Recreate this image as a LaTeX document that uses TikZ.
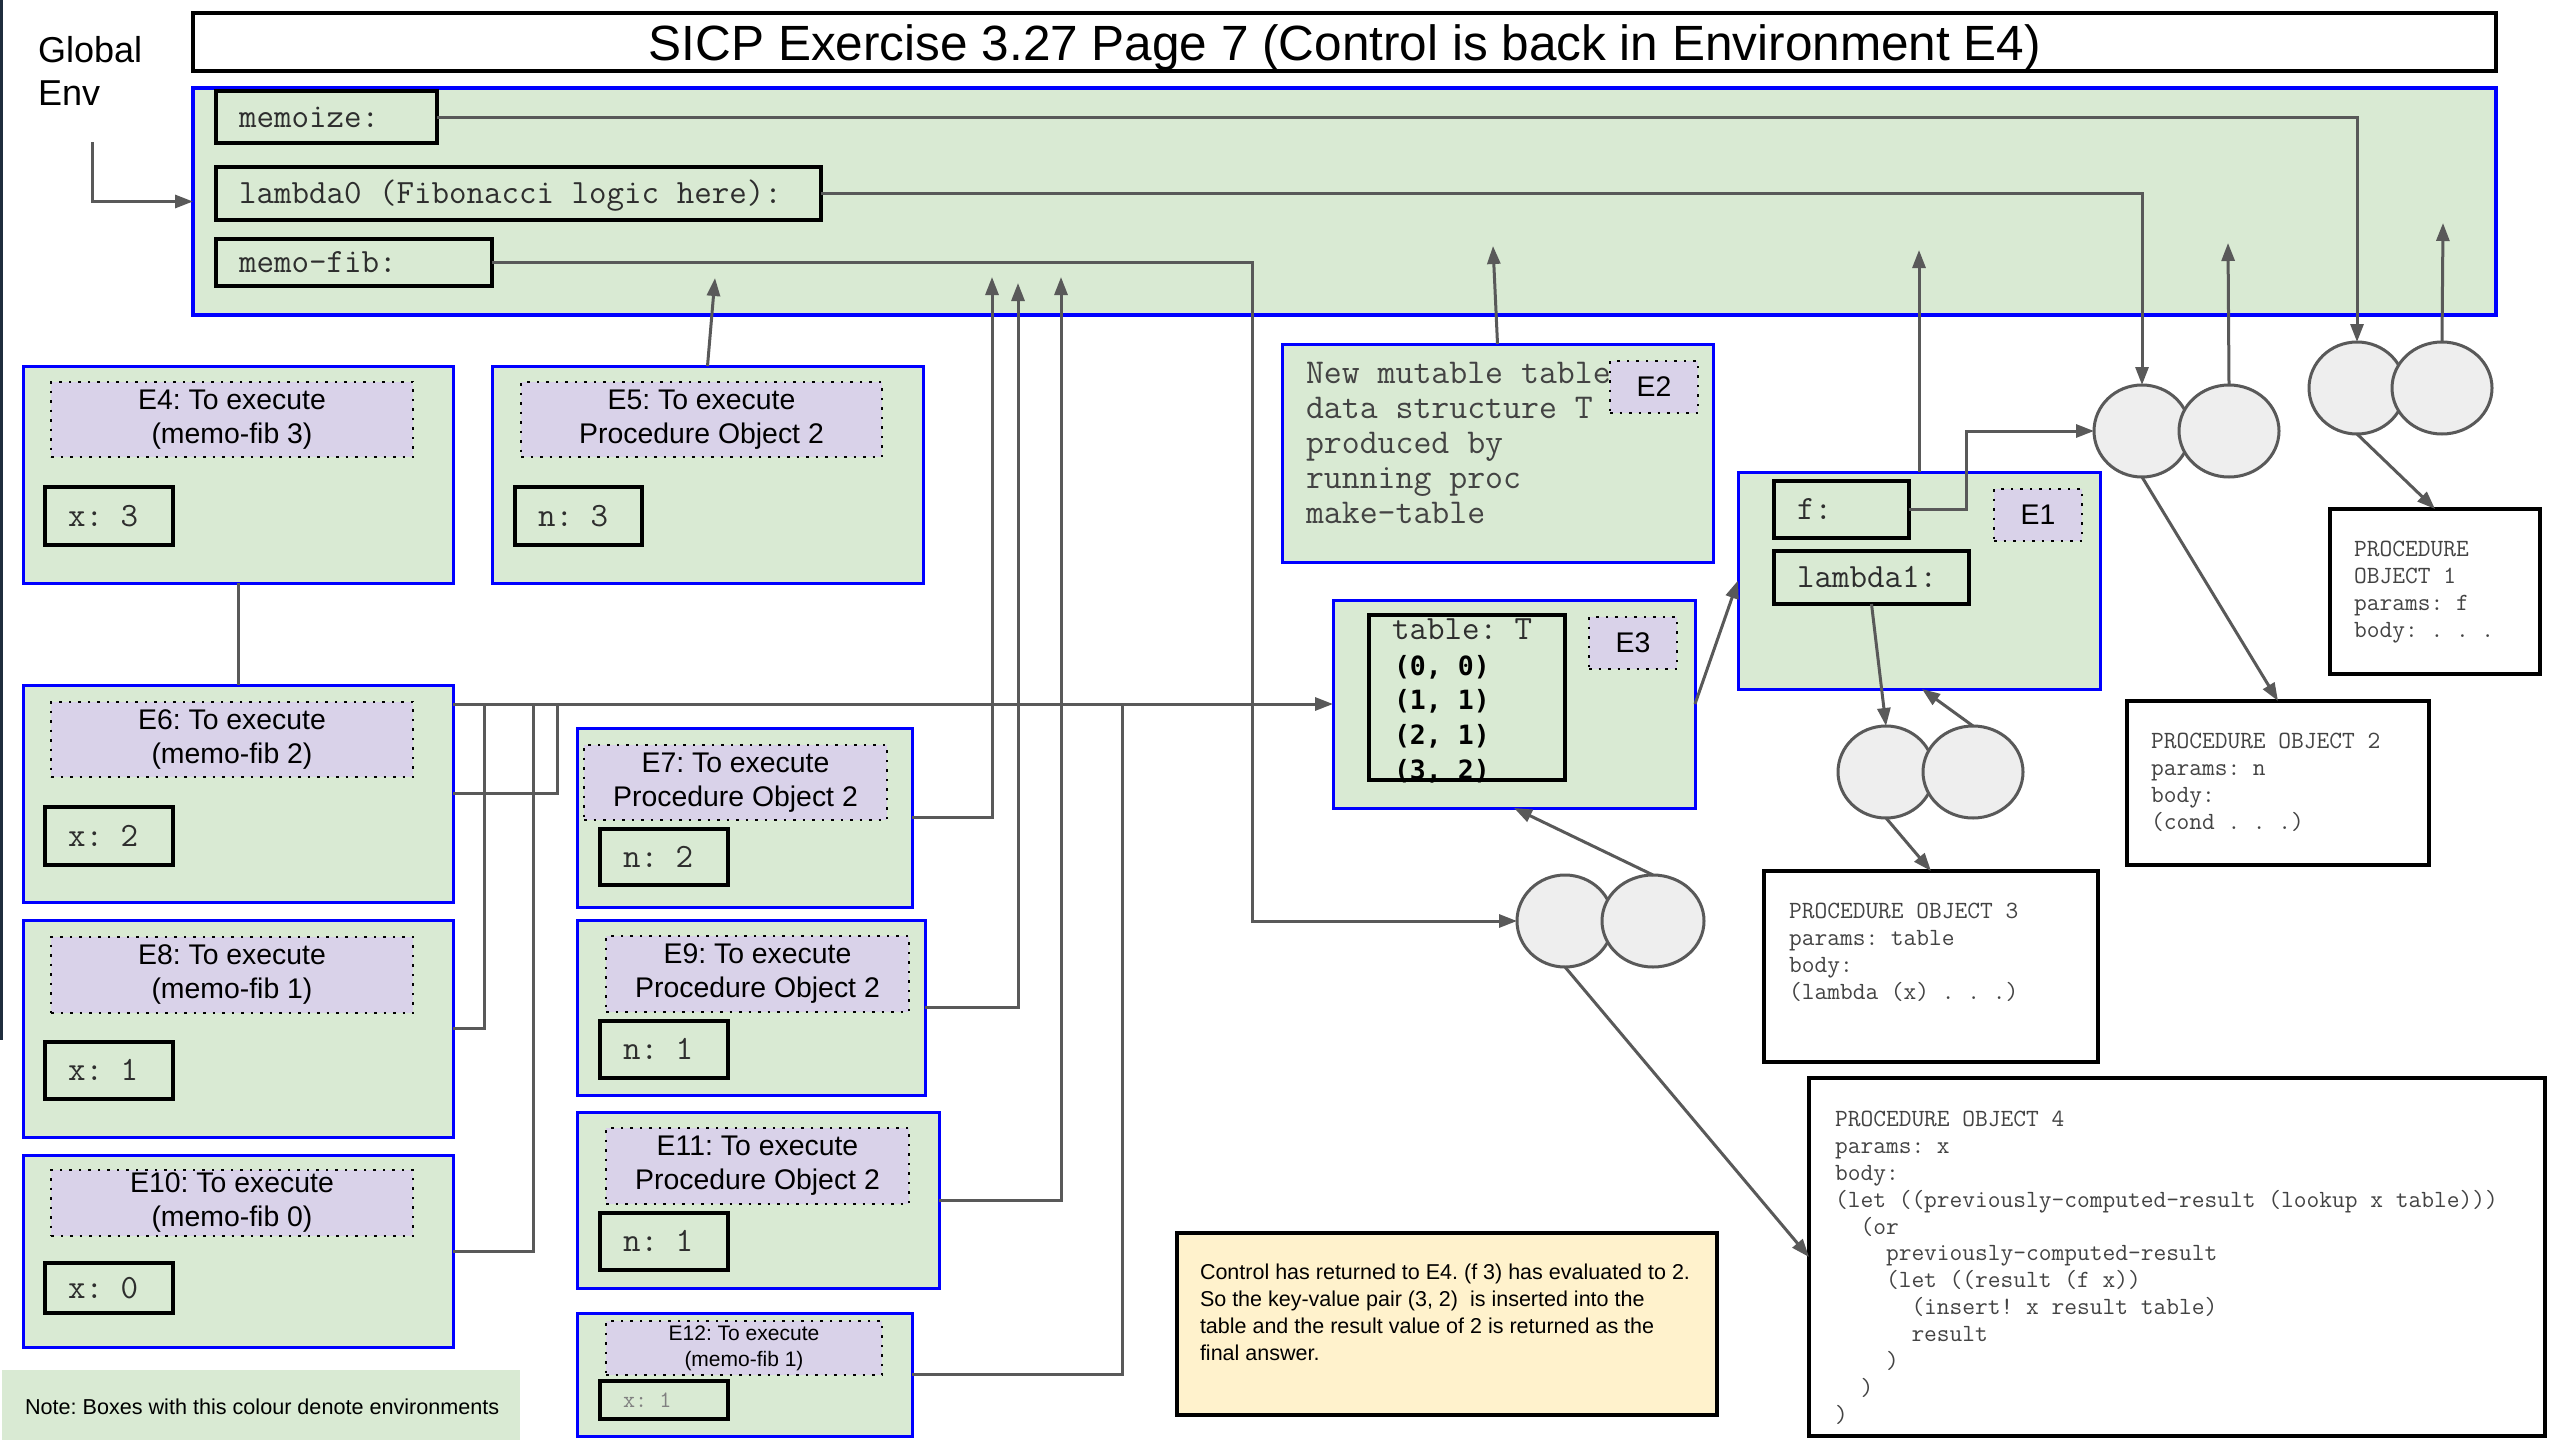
\documentclass[tikz,border=0pt]{standalone}
\usepackage{fontspec}
\setmainfont{Liberation Sans}
\newfontfamily\pairfont{DejaVu Sans Mono}
\usetikzlibrary{shapes.geometric,arrows.meta}
\definecolor{envgreen}{HTML}{D9EAD3}
\definecolor{lblpurple}{HTML}{D9D2E9}
\definecolor{envblue}{HTML}{0000FF}
\definecolor{cellgray}{HTML}{EEEEEE}
\definecolor{linegray}{HTML}{595959}
\definecolor{notey}{HTML}{FFF2CC}
\definecolor{monogray}{HTML}{2E2E2E}
\definecolor{pogray}{HTML}{434343}
\definecolor{edgecol}{HTML}{1F2D3D}
\tikzset{
  every node/.style={inner sep=0pt, outer sep=0pt},
  env/.style={draw=envblue, line width=3pt, fill=envgreen},
  gframe/.style={draw=envblue, line width=4pt, fill=envgreen},
  titlebox/.style={draw=black, line width=3.5pt, fill=white},
  lbl/.style={draw=black, line width=2.5pt, dash pattern=on 2.5pt off 7pt, fill=lblpurple, align=center, font=\fontsize{28.4}{34}\selectfont},
  lblsmall/.style={lbl, font=\fontsize{21}{26}\selectfont},
  varbox/.style={draw=black, line width=3.2pt, fill=envgreen},
  vartext/.style={font=\ttfamily\fontsize{34}{36}\selectfont, text=monogray, anchor=base west},
  e2text/.style={font=\ttfamily\fontsize{34.8}{35}\selectfont, text=pogray, align=left, anchor=north west},
  pairtext/.style={font=\pairfont\bfseries\fontsize{26.5}{34.8}\selectfont, text=black, align=left, anchor=north west},
  pobox/.style={draw=black, line width=3.2pt, fill=white},
  potext/.style={font=\ttfamily\fontsize{24.75}{26.9}\selectfont, text=pogray, align=left, anchor=north west},
  notebox/.style={draw=black, line width=3.2pt, fill=notey},
  cell/.style={ellipse, draw=linegray, line width=3pt, fill=cellgray},
  conn/.style={draw=linegray, line width=3pt},
  arr/.style={conn, -{Triangle[length=18pt,width=13pt]}},
}
\newcommand\bxr[7][]{\node[#1, anchor=north west, minimum width={(#5-#3)*1pt}, minimum height={(#6-#4)*1pt}] (#2) at (#3,#4) {#7};}
\newcommand\varb[6]{\bxr[varbox]{#1}{#2}{#3}{#4}{#5}{}\node[vartext] (#1t) at ([xshift=23pt,yshift=-10pt]#1.west) {#6};}
\begin{document}
\frenchspacing
\begin{tikzpicture}[x=1pt,y=-1pt]
\useasboundingbox (0,0) rectangle (2561,1440);
\fill[white] (0,0) rectangle (2561,1440);
\draw[line width=3pt, draw=edgecol] (1.5,0) -- (1.5,1040);

% title and global environment
\bxr[titlebox]{titlebox}{193}{13}{2496}{71}{}
\node[font=\fontsize{49.5}{55}\selectfont, anchor=base] (title) at (1345,60) {SICP Exercise 3.27 Page 7 (Control is back in Environment E4)};
\node[font=\fontsize{36}{43}\selectfont, align=left, anchor=north west] (genvtext) at (38,36) {Global\\Env};
\coordinate (genv) at (92,142);
\bxr[gframe]{global}{193}{88}{2496}{315}{}
\varb{memoize}{216}{91}{437}{143}{memoize:}
\varb{lambda0}{216}{167}{821}{220}{lambda0 (Fibonacci logic here):}
\varb{memofib}{216}{239}{492}{286}{memo-fib:}

% left column environments
\bxr[env]{e4}{23}{366}{453}{583}{}
\bxr[lbl]{e4l}{51}{382}{413}{457}{E4: To execute\\(memo-fib 3)}
\varb{e4x}{45}{487}{173}{545}{x: 3}

\bxr[env]{e5}{492}{366}{923}{583}{}
\bxr[lbl]{e5l}{521}{382}{882}{457}{E5: To execute\\Procedure Object 2}
\varb{e5n}{515}{487}{642}{545}{n: 3}

\bxr[env]{e6}{23}{685}{453}{902}{}
\bxr[lbl]{e6l}{51}{702}{413}{777}{E6: To execute\\(memo-fib 2)}
\varb{e6x}{45}{807}{173}{865}{x: 2}

\bxr[env]{e8}{23}{920}{453}{1137}{}
\bxr[lbl]{e8l}{51}{937}{413}{1013}{E8: To execute\\(memo-fib 1)}
\varb{e8x}{45}{1042}{173}{1099}{x: 1}

\bxr[env]{e10}{23}{1155}{453}{1347}{}
\bxr[lbl]{e10l}{51}{1170}{413}{1236}{E10: To execute\\(memo-fib 0)}
\varb{e10x}{45}{1263}{173}{1313}{x: 0}

\bxr[env]{e7}{577}{728}{912}{907}{}
\bxr[lbl]{e7l}{584}{745}{887}{820}{E7: To execute\\Procedure Object 2}
\varb{e7n}{600}{829}{728}{885}{n: 2}

\bxr[env]{e9}{577}{920}{925}{1095}{}
\bxr[lbl]{e9l}{606}{936}{909}{1012}{E9: To execute\\Procedure Object 2}
\varb{e9n}{600}{1021}{728}{1078}{n: 1}

\bxr[env]{e11}{577}{1112}{939}{1288}{}
\bxr[lbl]{e11l}{606}{1128}{909}{1204}{E11: To execute\\Procedure Object 2}
\varb{e11n}{600}{1213}{728}{1270}{n: 1}

\bxr[env]{e12}{577}{1313}{912}{1436}{}
\bxr[lblsmall]{e12l}{606}{1321}{882}{1375}{E12: To execute\\(memo-fib 1)}
\bxr[varbox]{e12x}{600}{1381}{728}{1419}{}
\node[font=\ttfamily\fontsize{23.5}{26}\selectfont, text=gray, anchor=base west] (e12xt) at ([xshift=23pt,yshift=-7pt]e12x.west) {x: 1};

\bxr[fill=envgreen]{notebox}{2}{1370}{520}{1440}{}
\node[font=\fontsize{21.6}{26}\selectfont, anchor=base west] (notetext) at (25,1414) {Note: Boxes with this colour denote environments};

% E2, E3, E1
\bxr[env]{e2}{1282}{344}{1713}{562}{}
\node[e2text] (e2t) at (1306,362) {New mutable table\\data structure T\\produced by\\running proc\\make-table};
\bxr[lbl]{e2l}{1610}{361}{1698}{413}{E2}

\bxr[env]{e3}{1333}{600}{1695}{808}{}
\bxr[varbox]{table}{1369}{615}{1565}{780}{}
\node[vartext] (tablet) at (1392,639) {table: T};
\node[pairtext] (pairs) at (1394,655) {(0, 0)\\(1, 1)\\(2, 1)\\(3, 2)};
\bxr[lbl]{e3l}{1589}{617}{1677}{669}{E3}

\bxr[env]{e1}{1738}{472}{2100}{689}{}
\varb{fvar}{1774}{481}{1909}{538}{f:}
\varb{lambda1}{1774}{551}{1969}{604}{lambda1:}
\bxr[lbl]{e1l}{1994}{489}{2082}{541}{E1}

% procedure object cells
\node[cell, minimum width=96pt, minimum height=92pt] (p1l) at (2357,388) {};
\node[cell, minimum width=100pt, minimum height=92pt] (p1r) at (2442,388) {};
\node[cell, minimum width=96pt, minimum height=92pt] (p2l) at (2142,431) {};
\node[cell, minimum width=100pt, minimum height=92pt] (p2r) at (2229,431) {};
\node[cell, minimum width=96pt, minimum height=92pt] (p3l) at (1886,772) {};
\node[cell, minimum width=100pt, minimum height=92pt] (p3r) at (1973,772) {};
\node[cell, minimum width=96pt, minimum height=92pt] (p4l) at (1565,921) {};
\node[cell, minimum width=102pt, minimum height=92pt] (p4r) at (1653,921) {};

% procedure objects
\bxr[pobox]{po1}{2330}{509}{2540}{674}{}
\node[potext] (po1t) at (2354,541) {PROCEDURE\\OBJECT 1\\params: f\\body: . . .};
\bxr[pobox]{po2}{2127}{701}{2429}{865}{}
\node[potext] (po2t) at (2151,733) {PROCEDURE OBJECT 2\\params: n\\body:\\(cond . . .)};
\bxr[pobox]{po3}{1764}{871}{2098}{1062}{}
\node[potext] (po3t) at (1789,903) {PROCEDURE OBJECT 3\\params: table\\body:\\(lambda (x) . . .)};
\bxr[pobox]{po4}{1809}{1078}{2545}{1436}{}
\node[potext] (po4t) at (1835,1111) {PROCEDURE OBJECT 4\\params: x\\body:\\(let ((previously-computed-result (lookup x table)))\\\phantom{xx}(or\\\phantom{xxxx}previously-computed-result\\\phantom{xxxx}(let ((result (f x))\\\phantom{xxxxxx}(insert! x result table)\\\phantom{xxxxxx}result\\\phantom{xxxx})\\\phantom{xx})\\)};

\bxr[notebox]{ctrl}{1177}{1233}{1717}{1415}{}
\node[font=\fontsize{21.5}{27}\selectfont, align=left, anchor=north west] (ctrlt) at (1200,1264) {Control has returned to E4. (f 3) has evaluated to 2.\\So the key-value pair (3, 2)\ \ is inserted into the\\table and the result value of 2 is returned as the\\final answer.};

% free ends
\coordinate (g1) at (2443,223);
\coordinate (g2) at (2228,243);
\coordinate (g3) at (1919,250);
\coordinate (g4) at (1493,246);
\coordinate (g5) at (715,278);
\coordinate (g6) at (992,277);
\coordinate (g7) at (1018,283);
\coordinate (g8) at (1061,277);
\coordinate (j12) at (1122,704);
\coordinate (j6) at (557,704);
\coordinate (j8) at (484,704);
\coordinate (j10) at (533,704);
\coordinate (mfb) at (1252,263);

% connectors
\draw[arr] (genv) |- (global.west);
\draw[arr] (memoize.east) -| (p1l.north);
\draw[arr] (lambda0.east) -| (p2l.north);
\draw[arr] (memofib.east) -| (mfb |- p4l.west) -- (p4l.west);
\draw[arr] (p1r.north) -- (g1);
\draw[arr] (p2r.north) -- (g2);
\draw[arr] (e1.north) -- (g3);
\draw[arr] (e2.north) -- (g4);
\draw[arr] (e5.north) -- (g5);
\draw[arr] (e7.east) -| (g6);
\draw[arr] (e9.east) -| (g7);
\draw[arr] (e11.east) -| (g8);
\draw[conn] (e12.east) -| (j12);
\draw[arr] (e6.east |- e3.west) -- (e3.west);
\draw[conn] (e6.east) -| (j6);
\draw[conn] (e8.east) -| (j8);
\draw[conn] (e10.east) -| (j10);
\draw[conn] (e4.south) -- (e6.north);
\draw[arr] (fvar.east) -- ++(57,0) |- (p2l.west);
\draw[arr] (e3.east) -- (e1.west);
\draw[arr] (lambda1.south) -- (p3l.north);
\draw[arr] (p3r.north) -- ([xshift=3pt]e1.south);
\draw[arr] (p3l.south) -- (po3.north);
\draw[arr] (p4r.north) -- (e3.south);
\draw[arr] (p4l.south) -- (po4.west);
\draw[arr] (p1l.south) -- (po1.north);
\draw[arr] (p2l.south) -- (po2.north);
\end{tikzpicture}
\end{document}
